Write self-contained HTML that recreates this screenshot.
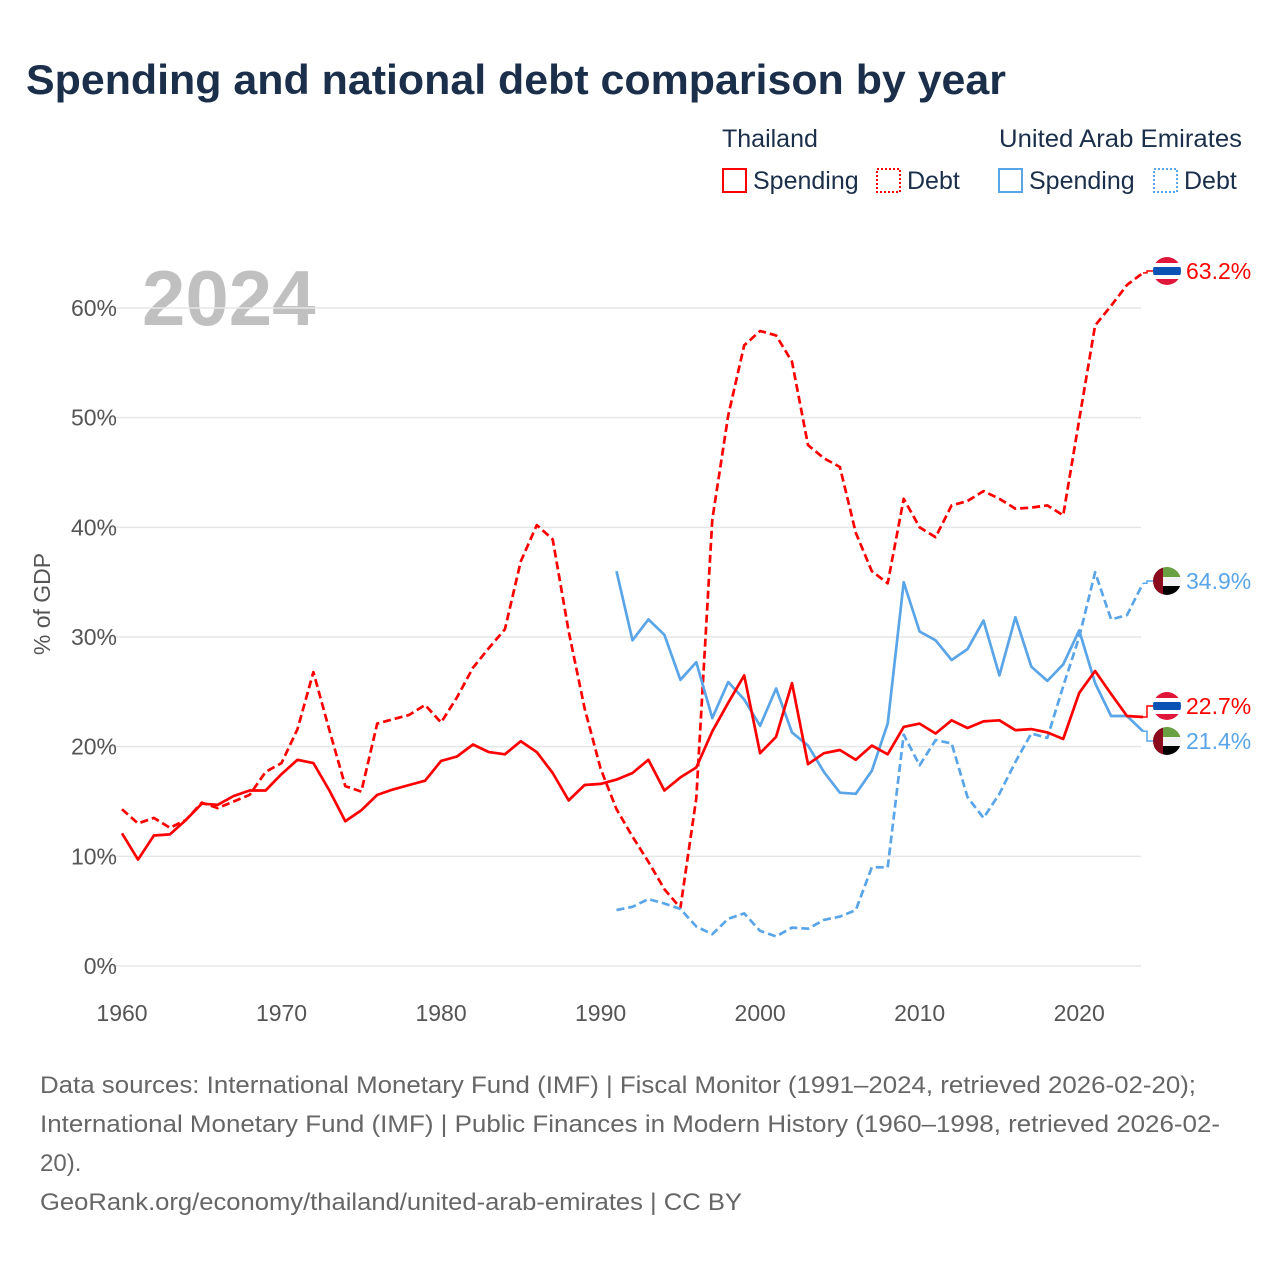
<!DOCTYPE html>
<html><head><meta charset="utf-8"><style>
html,body{margin:0;padding:0;background:#fff;}
svg{display:block;font-family:"Liberation Sans",sans-serif;}
</style></head><body>
<svg id="chart" width="1280" height="1280" viewBox="0 0 1280 1280" xmlns="http://www.w3.org/2000/svg">
<text x="26" y="94" font-size="42" font-weight="bold" fill="#1b2f4b" textLength="980" lengthAdjust="spacingAndGlyphs">Spending and national debt comparison by year</text>
<g font-size="25" fill="#1b2f4b">
<text x="722" y="147">Thailand</text>
<text x="999" y="147" textLength="243" lengthAdjust="spacingAndGlyphs">United Arab Emirates</text>
<g><rect x="723" y="169" width="23" height="23" fill="none" stroke="#ff0000" stroke-width="2"/><text x="753" y="189">Spending</text></g>
<g><rect x="877" y="169" width="23" height="23" fill="none" stroke="#ff0000" stroke-width="2" stroke-dasharray="2,2"/><text x="907" y="189">Debt</text></g>
<g><rect x="999" y="169" width="23" height="23" fill="none" stroke="#5aa5e8" stroke-width="2"/><text x="1029" y="189">Spending</text></g>
<g><rect x="1154" y="169" width="23" height="23" fill="none" stroke="#5aa5e8" stroke-width="2" stroke-dasharray="2,2"/><text x="1184" y="189">Debt</text></g>
</g>
<text x="142" y="325" font-size="78" font-weight="bold" fill="#c0c0c0">2024</text>
<text transform="translate(50,604) rotate(-90)" text-anchor="middle" font-size="23" fill="#555">% of GDP</text>
<g id="grid"></g><g id="axes"></g><g id="series"></g><g id="ends"></g>
<g font-size="24" fill="#666">
<text x="40" y="1093" textLength="1156" lengthAdjust="spacingAndGlyphs">Data sources: International Monetary Fund (IMF) | Fiscal Monitor (1991–2024, retrieved 2026-02-20);</text>
<text x="40" y="1132" textLength="1180" lengthAdjust="spacingAndGlyphs">International Monetary Fund (IMF) | Public Finances in Modern History (1960–1998, retrieved 2026-02-</text>
<text x="40" y="1171">20).</text>
<text x="40" y="1210" textLength="702" lengthAdjust="spacingAndGlyphs">GeoRank.org/economy/thailand/united-arab-emirates | CC BY</text>
</g>
</svg>
<script>
const yTicks=[0,10,20,30,40,50,60];
const xTicks=[1960,1970,1980,1990,2000,2010,2020];
const thaStart=1960;
const thaSpending=[12.1,9.7,11.9,12.0,13.3,14.8,14.7,15.5,16.0,16.0,17.5,18.8,18.5,16.0,13.2,14.2,15.6,16.1,16.5,16.9,18.7,19.1,20.2,19.5,19.3,20.5,19.5,17.6,15.1,16.5,16.6,17.0,17.6,18.8,16.0,17.2,18.1,21.4,24.0,26.5,19.4,20.9,25.8,18.4,19.4,19.7,18.8,20.1,19.3,21.8,22.1,21.2,22.4,21.7,22.3,22.4,21.5,21.6,21.3,20.7,24.9,26.9,24.8,22.8,22.7];
const thaDebt=[14.3,13.0,13.5,12.6,13.3,14.9,14.4,15.0,15.6,17.7,18.5,21.6,26.8,21.5,16.4,15.9,22.1,22.5,22.9,23.8,22.2,24.5,27.2,29.0,30.7,36.9,40.2,38.9,30.5,23.5,18.0,14.3,11.8,9.5,7.0,5.3,15.3,40.7,50.2,56.6,57.9,57.5,55.1,47.5,46.3,45.5,39.5,36.0,34.9,42.6,40.0,39.1,42.0,42.4,43.3,42.6,41.7,41.8,42.0,41.1,49.8,58.4,60.2,62.1,63.2];
const uaeStart=1991;
const uaeSpending=[36.0,29.7,31.6,30.2,26.1,27.7,22.6,25.9,24.3,21.9,25.3,21.3,20.1,17.7,15.8,15.7,17.8,22.1,35.0,30.5,29.7,27.9,28.9,31.5,26.5,31.8,27.3,26.0,27.5,30.6,25.8,22.8,22.8,21.4];
const uaeDebt=[5.1,5.4,6.1,5.7,5.2,3.6,2.9,4.3,4.8,3.2,2.7,3.5,3.4,4.2,4.5,5.1,9.0,9.0,21.1,18.3,20.6,20.3,15.4,13.5,15.7,18.6,21.2,20.8,25.5,30.0,35.9,31.6,32.0,34.9];

const NS="http://www.w3.org/2000/svg";
const x=yr=>122+(yr-1960)*15.953;
const y=v=>966-v*10.967;
function mk(tag,attrs,parent){const e=document.createElementNS(NS,tag);for(const k in attrs)e.setAttribute(k,attrs[k]);parent.appendChild(e);return e;}
const grid=document.getElementById('grid'),axes=document.getElementById('axes'),ser=document.getElementById('series'),ends=document.getElementById('ends');
yTicks.forEach(t=>{
  const l=mk('line',{x1:100,x2:1141,y1:y(t),y2:y(t),stroke:'#e6e6e6','stroke-width':1.5},grid);
  
  
  const tx=mk('text',{x:117,y:y(t)+8,'text-anchor':'end','font-size':23,fill:'#555'},axes);
  tx.textContent=t+'%';
  
  
});
xTicks.forEach(t=>{
  const tx=mk('text',{x:x(t),y:1021,'text-anchor':'middle','font-size':23,fill:'#555'},axes);
  tx.textContent=t;
  
  
});
function line(vals,start,color,dash,name){
  const d=vals.map((v,i)=>(i?'L':'M')+x(start+i).toFixed(1)+','+y(v).toFixed(1)).join('');
  const p=mk('path',{d:d,fill:'none',stroke:color,'stroke-width':2.7,'stroke-linejoin':'round'},ser);
  if(dash)p.setAttribute('stroke-dasharray',dash);
  
  
}
line(thaDebt,thaStart,'#ff0000','8,4','line-thailand-debt');
line(uaeDebt,uaeStart,'#5aa5e8','8,4','line-uae-debt');
line(uaeSpending,uaeStart,'#5aa5e8',null,'line-uae-spending');
line(thaSpending,thaStart,'#ff0000',null,'line-thailand-spending');

function flag(cx,cy,type,parent){
  const g=mk('g',{},parent);
  const id='c'+Math.round(cy);
  const cp=mk('clipPath',{id:id},g);mk('circle',{cx:cx,cy:cy,r:14},cp);
  const f=mk('g',{'clip-path':'url(#'+id+')'},g);
  if(type==='th'){
    [['#e0173b',0,6],['#fff',6,4],['#0a52b4',10,8],['#fff',18,4],['#e0173b',22,6]].forEach(s=>mk('rect',{x:cx-14,y:cy-14+s[1],width:28,height:s[2],fill:s[0]},f));
  } else {
    mk('rect',{x:cx-14,y:cy-14,width:28,height:10,fill:'#6aa042'},f);
    mk('rect',{x:cx-14,y:cy-4,width:28,height:9,fill:'#f2f2f2'},f);
    mk('rect',{x:cx-14,y:cy+5,width:28,height:9,fill:'#000'},f);
    mk('rect',{x:cx-14,y:cy-14,width:10,height:28,fill:'#8c0a1e'},f);
  }
  return g;
}
function endLabel(val,labelY,color,type,name){
  const g=mk('g',{},ends);
  
  
  const ex=x(2024),ey=y(val);
  mk('path',{d:'M'+ex+','+ey+'H1147V'+labelY+'H1153',fill:'none',stroke:color,'stroke-width':1.5},g);
  flag(1167,labelY,type,g);
  const t=mk('text',{x:1186,y:labelY+8,'font-size':23,fill:color},g);
  t.textContent=val.toFixed(1)+'%';
}
endLabel(thaDebt[thaDebt.length-1],271,'#ff0000','th','end-label-thailand-debt');
endLabel(uaeDebt[uaeDebt.length-1],581,'#5aa5e8','ae','end-label-uae-debt');
endLabel(thaSpending[thaSpending.length-1],706,'#ff0000','th','end-label-thailand-spending');
endLabel(uaeSpending[uaeSpending.length-1],741,'#5aa5e8','ae','end-label-uae-spending');
</script>
</body></html>
